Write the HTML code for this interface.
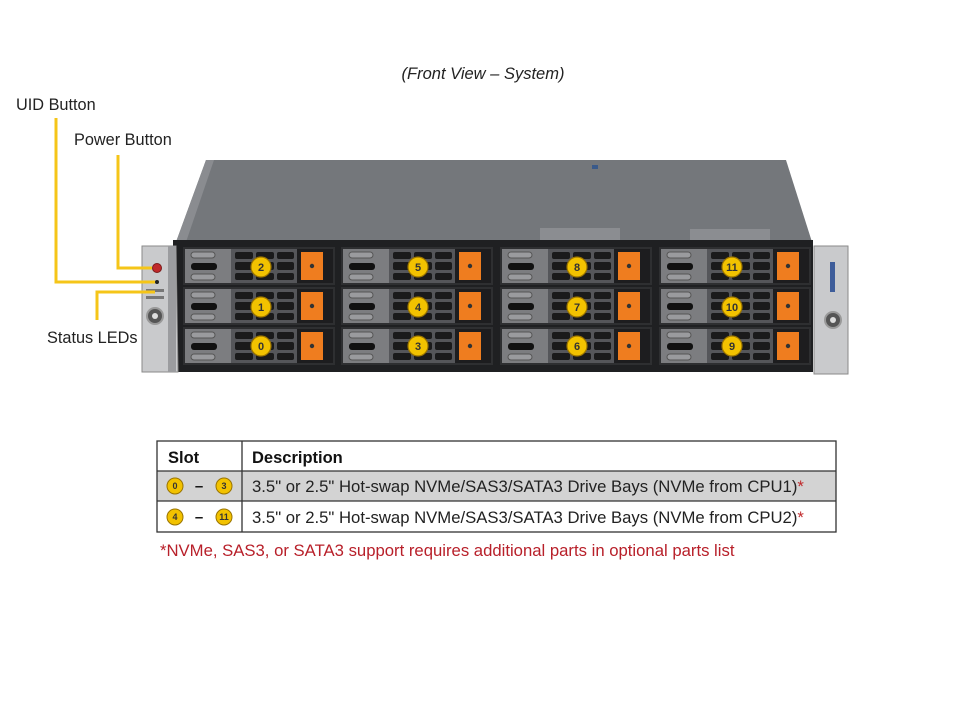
<!DOCTYPE html>
<html><head><style>
body{margin:0;background:#fff;width:960px;height:720px;overflow:hidden;font-family:"Liberation Sans",Arial,sans-serif}
svg{position:absolute;left:0;top:0}
</style></head><body>
<svg width="960" height="720" viewBox="0 0 960 720" xmlns="http://www.w3.org/2000/svg" font-family="Liberation Sans, Arial, sans-serif">
<defs>
<g id="bay">
  <rect x="0" y="0" width="152" height="38" fill="#2e2f31"/>
  <rect x="2" y="2" width="46" height="34" fill="#7c7d80"/>
  <rect x="8" y="5" width="24" height="6" rx="3" fill="#9a9b9e" stroke="#555" stroke-width="1"/>
  <rect x="8" y="16" width="26" height="7" rx="3" fill="#111"/>
  <rect x="8" y="27" width="24" height="6" rx="3" fill="#9a9b9e" stroke="#555" stroke-width="1"/>
  <rect x="48" y="2" width="66" height="34" fill="#55565a"/>
  <g fill="#1a1a1b">
   <rect x="52" y="5" width="18" height="7" rx="2"/><rect x="73" y="5" width="18" height="7" rx="2"/><rect x="94" y="5" width="17" height="7" rx="2"/>
   <rect x="52" y="15" width="18" height="8" rx="2"/><rect x="73" y="15" width="18" height="8" rx="2"/><rect x="94" y="15" width="17" height="8" rx="2"/>
   <rect x="52" y="26" width="18" height="7" rx="2"/><rect x="73" y="26" width="18" height="7" rx="2"/><rect x="94" y="26" width="17" height="7" rx="2"/>
  </g>
  <rect x="114" y="2" width="36" height="34" fill="#1d1d1f"/>
  <rect x="118" y="5" width="22" height="28" fill="#ef7d1f"/>
  <circle cx="129" cy="19" r="2.2" fill="#333"/>
</g>
</defs>

<text x="483" y="79" font-size="16.5" font-style="italic" text-anchor="middle" fill="#222">(Front View – System)</text>

<!-- chassis top -->
<polygon points="176,242 206,160 786,160 812,242" fill="#74777b"/>
<polygon points="176,242 206,160 214,160 186,242" fill="#8a8c90"/>
<rect x="540" y="228" width="80" height="12" fill="#8b8d91"/>
<rect x="690" y="229" width="80" height="11" fill="#8b8d91"/>
<rect x="592" y="165" width="6" height="4" fill="#3a5a8a"/>

<!-- front panel -->
<rect x="173" y="240" width="640" height="132" fill="#1f2022"/>
<!-- left ear -->
<path d="M142,246 L176,246 L178,372 L142,372 Z" fill="#c9cacc" stroke="#8a8a8a"/>
<rect x="168" y="246" width="8" height="126" fill="#9b9c9f"/>
<circle cx="157" cy="268" r="4.5" fill="#c0282a" stroke="#7a1b1b"/>
<circle cx="157" cy="282" r="2" fill="#222"/>
<rect x="146" y="289" width="18" height="3" fill="#777"/>
<rect x="146" y="296" width="18" height="3" fill="#777"/>
<circle cx="155" cy="316" r="8" fill="#555" stroke="#999" stroke-width="2"/>
<circle cx="155" cy="316" r="3" fill="#ddd"/>
<!-- right ear -->
<path d="M814,246 L848,246 L848,374 L814,374 Z" fill="#c9cacc" stroke="#8a8a8a"/>
<rect x="830" y="262" width="5" height="30" fill="#3e5d9a"/>
<circle cx="833" cy="320" r="8" fill="#555" stroke="#999" stroke-width="2"/>
<circle cx="833" cy="320" r="3" fill="#ddd"/>

<!-- bays -->
<use href="#bay" x="183" y="247"/><use href="#bay" x="183" y="287"/><use href="#bay" x="183" y="327"/>
<use href="#bay" x="341" y="247"/><use href="#bay" x="341" y="287"/><use href="#bay" x="341" y="327"/>
<use href="#bay" x="500" y="247"/><use href="#bay" x="500" y="287"/><use href="#bay" x="500" y="327"/>
<use href="#bay" x="659" y="247"/><use href="#bay" x="659" y="287"/><use href="#bay" x="659" y="327"/>

<g fill="#f2c200" stroke="#9a7400" stroke-width="1.2">
<circle cx="261" cy="267" r="10"/><circle cx="261" cy="307" r="10"/><circle cx="261" cy="346" r="10"/>
<circle cx="418" cy="267" r="10"/><circle cx="418" cy="307" r="10"/><circle cx="418" cy="346" r="10"/>
<circle cx="577" cy="267" r="10"/><circle cx="577" cy="307" r="10"/><circle cx="577" cy="346" r="10"/>
<circle cx="732" cy="267" r="10"/><circle cx="732" cy="307" r="10"/><circle cx="732" cy="346" r="10"/>
</g>
<g font-size="11" font-weight="bold" fill="#333" text-anchor="middle">
<text x="261" y="271">2</text><text x="261" y="311">1</text><text x="261" y="350">0</text>
<text x="418" y="271">5</text><text x="418" y="311">4</text><text x="418" y="350">3</text>
<text x="577" y="271">8</text><text x="577" y="311">7</text><text x="577" y="350">6</text>
<text x="732" y="271">11</text><text x="732" y="311">10</text><text x="732" y="350">9</text>
</g>

<!-- callouts -->
<g stroke="#f5c518" stroke-width="3" fill="none">
<polyline points="56,118 56,282 155,282"/>
<polyline points="118,155 118,268 152,268"/>
<polyline points="97,320 97,292 155,292"/>
</g>
<g font-size="16.3" fill="#222">
<text x="16" y="110">UID Button</text>
<text x="74" y="145">Power Button</text>
<text x="47" y="343">Status LEDs</text>
</g>

<!-- table -->
<rect x="157" y="471" width="679" height="30" fill="#d3d3d3"/>
<g stroke="#333" stroke-width="1.3" fill="none">
<rect x="157" y="441" width="679" height="91"/>
<line x1="157" y1="471" x2="836" y2="471"/>
<line x1="157" y1="501" x2="836" y2="501"/>
<line x1="242" y1="441" x2="242" y2="532"/>
</g>
<text x="168" y="463" font-size="16.5" font-weight="bold" fill="#111">Slot</text>
<text x="252" y="463" font-size="16.5" font-weight="bold" fill="#111">Description</text>
<g fill="#f2c200" stroke="#9a7400" stroke-width="1">
<circle cx="175" cy="486" r="8"/><circle cx="224" cy="486" r="8"/>
<circle cx="175" cy="517" r="8"/><circle cx="224" cy="517" r="8"/>
</g>
<g font-size="9" font-weight="bold" fill="#333" text-anchor="middle">
<text x="175" y="489">0</text><text x="224" y="489">3</text>
<text x="175" y="520">4</text><text x="224" y="520">11</text>
</g>
<g font-size="15" font-weight="bold" fill="#111" text-anchor="middle">
<text x="199" y="491">–</text><text x="199" y="522">–</text>
</g>
<text x="252" y="492" font-size="16.7" fill="#222">3.5" or 2.5" Hot-swap NVMe/SAS3/SATA3 Drive Bays (NVMe from CPU1)<tspan fill="#c0282a">*</tspan></text>
<text x="252" y="523" font-size="16.7" fill="#222">3.5" or 2.5" Hot-swap NVMe/SAS3/SATA3 Drive Bays (NVMe from CPU2)<tspan fill="#c0282a">*</tspan></text>
<text x="160" y="556" font-size="16.7" fill="#b8202a">*NVMe, SAS3, or SATA3 support requires additional parts in optional parts list</text>
</svg>
</body></html>
